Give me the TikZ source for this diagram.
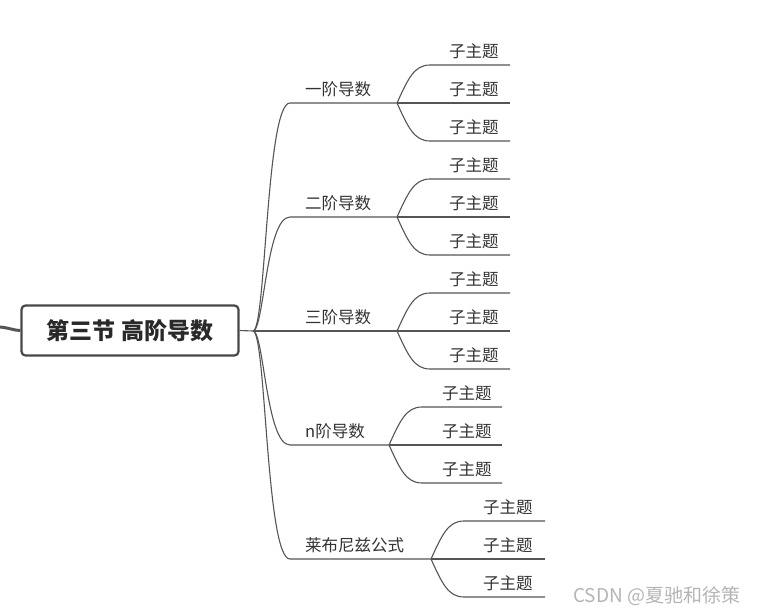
\documentclass[tikz,border=0pt]{standalone}
\usepackage{fontspec}
\usetikzlibrary{calc}
\setmainfont{Noto Sans CJK SC}
\definecolor{txt}{HTML}{333333}
\definecolor{ln}{HTML}{555555}
\definecolor{wm}{HTML}{B4B4B4}
\begin{document}
\begin{tikzpicture}[x=1pt,y=-1pt,
  conn/.style={draw=ln,line width=1.1pt},
  lbl/.style={inner sep=0pt,anchor=base west,text=txt,font=\fontsize{16.5}{16.5}\selectfont},
  root/.style={draw=ln!85!black,line width=2.2pt,rounded corners=4pt,fill=white,minimum width=217pt,minimum height=50pt,inner sep=0pt,text=txt!80!black,font=\fontsize{23}{23}\selectfont\bfseries}]
\useasboundingbox (0,0) rectangle (761,613);
% root
\coordinate (lt) at (0,327);
\node[root] (root) at (130,330.5) {第三节 高阶导数};
\draw[draw=ln,line width=3pt] (lt) .. controls (10,328) and (14,330.5) .. (root.west);
\coordinate (hub) at (253,331);
\draw[conn] (root.east) -- (hub);
% branches: y positions 103,217,331,445,559
\coordinate (f1) at (397,103);
\coordinate (f2) at (397,217);
\coordinate (f3) at (397,331);
\coordinate (f4) at (389,445);
\coordinate (f5) at (431,559);
\draw[conn] (hub) .. controls (266,331) and (266,103) .. (290,103) -- (f1);
\draw[conn] (hub) .. controls (264,331) and (266,217) .. (290,217) -- (f2);
\draw[conn] (hub) -- (f3);
\draw[conn] (hub) .. controls (264,331) and (266,445) .. (290,445) -- (f4);
\draw[conn] (hub) .. controls (266,331) and (266,559) .. (290,559) -- (f5);
\node[lbl] (b1) at (305,95) {一阶导数};
\node[lbl] (b2) at (305,209) {二阶导数};
\node[lbl] (b3) at (305,323) {三阶导数};
\node[lbl] (b4) at (305,437) {n阶导数};
\node[lbl] (b5) at (305,551) {莱布尼兹公式};
% sub topics
\foreach \f/\y/\ex/\lx/\n in {f1/103/510/449/1, f2/217/510/449/2, f3/331/510/449/3, f4/445/502/442/4, f5/559/545/483/5}{
  \path (\f) coordinate (F);
  \draw[conn] (\f) .. controls ($(F)+(11,-24)$) and ($(F)+(17,-38)$) .. ($(F)+(33,-38)$) -- (\ex,\y-38);
  \draw[conn] (\f) -- (\ex,\y);
  \draw[conn] (\f) .. controls ($(F)+(11,24)$) and ($(F)+(17,38)$) .. ($(F)+(33,38)$) -- (\ex,\y+38);
  \node[lbl] (s\n a) at (\lx,\y-46) {子主题};
  \node[lbl] (s\n b) at (\lx,\y-8) {子主题};
  \node[lbl] (s\n c) at (\lx,\y+30) {子主题};
}
\node[inner sep=0pt,anchor=base west,text=wm,font=\fontsize{19}{19}\selectfont] (wmk) at (573,602) {CSDN @夏驰和徐策};
\end{tikzpicture}
\end{document}
